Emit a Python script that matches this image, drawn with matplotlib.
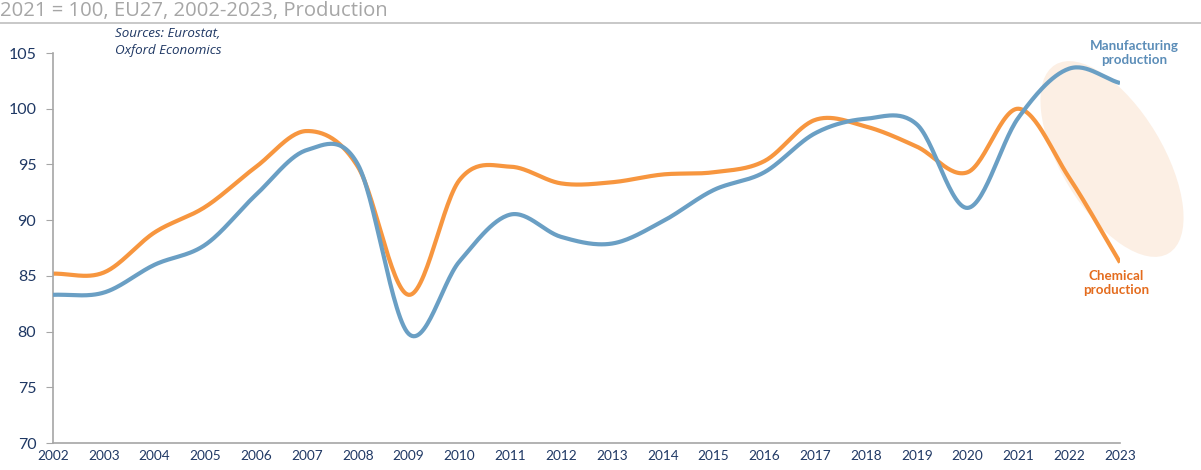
import numpy as np
import matplotlib.pyplot as plt
from matplotlib.patches import Ellipse
from matplotlib.transforms import IdentityTransform

years = list(range(2002, 2024))
manufacturing = [83.3, 83.5, 86.0, 87.8, 92.3, 96.3, 95.0, 79.8, 86.3, 90.5, 88.5,
                 87.9, 89.9, 92.7, 94.3, 97.8, 99.1, 98.6, 91.1, 99.2, 103.6, 102.3]
chemical = [85.2, 85.3, 88.9, 91.2, 94.8, 98.0, 94.8, 83.3, 93.6, 94.8, 93.3,
            93.4, 94.1, 94.3, 95.3, 99.0, 98.4, 96.6, 94.3, 100.0, 93.8, 86.2]
yticks = [70, 75, 80, 85, 90, 95, 100, 105]

navy = "#1F3864"
blue = "#6A9FC4"
orange = "#F7963F"


def smooth(x, y, n=30):
    # Catmull-Rom curve through the points, like a "smoothed line" chart
    x = np.asarray(x, float)
    y = np.asarray(y, float)
    px = np.concatenate([[2 * x[0] - x[1]], x, [2 * x[-1] - x[-2]]])
    py = np.concatenate([[2 * y[0] - y[1]], y, [2 * y[-1] - y[-2]]])
    t = np.linspace(0, 1, n, endpoint=False)
    xs, ys = [], []
    for i in range(1, len(px) - 2):
        for p, out in ((px, xs), (py, ys)):
            p0, p1, p2, p3 = p[i - 1], p[i], p[i + 1], p[i + 2]
            out.extend(0.5 * (2 * p1 + (-p0 + p2) * t
                              + (2 * p0 - 5 * p1 + 4 * p2 - p3) * t ** 2
                              + (-p0 + 3 * p1 - 3 * p2 + p3) * t ** 3))
    xs.append(x[-1])
    ys.append(y[-1])
    return np.array(xs), np.array(ys)


plt.rcParams['font.family'] = ['Lato', 'DejaVu Sans']

fig = plt.figure(figsize=(12.01, 4.70), dpi=100)
ax = fig.add_axes([0.0441, 0.0574, 0.8885, 0.8298])

# highlight around the last two years
ax.add_patch(Ellipse((1112, 311), 220, 102, angle=-59, transform=IdentityTransform(),
                     facecolor="#FCEFE4", edgecolor="none", clip_on=False, zorder=1))

mx, my = smooth(years, manufacturing)
cx, cy = smooth(years, chemical)
ax.plot(mx, my, color=blue, lw=3, zorder=3, solid_capstyle="butt")
ax.plot(cx, cy, color=orange, lw=3, zorder=2, solid_capstyle="butt")

ax.set_xlim(2002, 2023)
ax.set_ylim(70, 105)
ax.set_xticks(years)
ax.set_xticklabels([str(y) for y in years], fontsize=9.8, color=navy)
ax.set_yticks(yticks)
ax.set_yticklabels([str(v) for v in yticks], fontsize=11.5, color=navy)
ax.tick_params(axis="x", length=0, pad=5)
ax.tick_params(axis="y", length=5, color="#A6A6A6", pad=7)
for s in ["top", "right"]:
    ax.spines[s].set_visible(False)
for s in ["left", "bottom"]:
    ax.spines[s].set_color("#A6A6A6")
    ax.spines[s].set_linewidth(1.2)

ax.text(1134, 470 - 53, "Manufacturing\nproduction", transform=IdentityTransform(),
        ha="center", va="center", fontsize=9.6, fontweight="bold", color="#5B8DB8",
        linespacing=1.2)
ax.text(1116, 470 - 283, "Chemical\nproduction", transform=IdentityTransform(),
        ha="center", va="center", fontsize=9.6, fontweight="bold", color="#E46C1E",
        linespacing=1.2)

fig.text(115 / 1201, 1 - 42 / 470, "Sources: Eurostat,\nOxford Economics", fontsize=9.6,
         style="italic", color=navy, ha="left", va="center", linespacing=1.45,
         family=["Open Sans", "DejaVu Sans"])
fig.text(0.0, 1 - 11 / 470, "2021 = 100, EU27, 2002-2023, Production", fontsize=14.6,
         color="#A6A6A6", ha="left", va="center", family=["Open Sans", "DejaVu Sans"])
fig.add_artist(plt.Line2D([0, 1], [1 - 23 / 470] * 2, color="#BFBFBF", lw=1.2,
                          transform=fig.transFigure))

fig.savefig("out.png", dpi=100)
